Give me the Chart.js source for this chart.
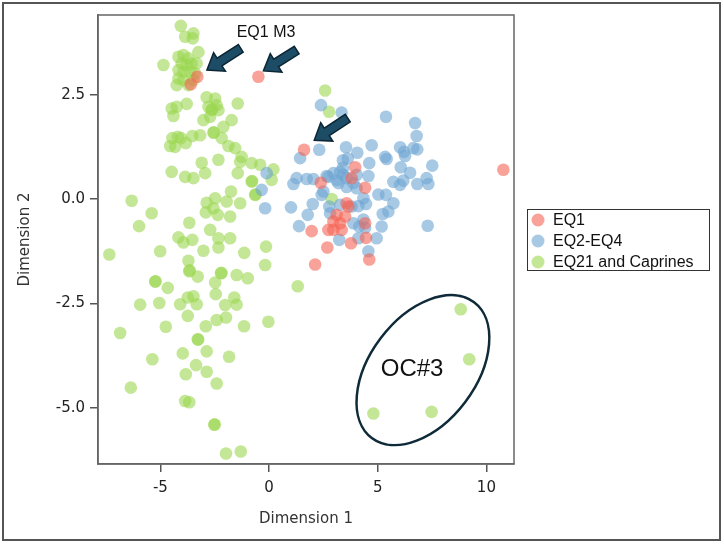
<!DOCTYPE html>
<html>
<head>
<meta charset="utf-8">
<script src="https://cdn.jsdelivr.net/npm/chart.js"></script>
<style>
  html, body { margin: 0; padding: 0; background: #fff; }
  #wrap { width: 724px; height: 544px; }
</style>
</head>
<body>
<div id="wrap"><canvas id="chart" width="724" height="544"></canvas></div>
<script>
const seriesNames = ["EQ1", "EQ2-EQ4", "EQ21 and Caprines"];
const xTicks = [-5, 0, 5, 10];
const yTicks = [-5, -2.5, 0, 2.5];

const eq1Points = [
  [-3.30, 2.93], [-0.49, 2.93], [-3.60, 2.75], [1.61, 1.18], [10.78, 0.70],
  [3.96, 0.76], [3.80, 0.50], [2.38, 0.39], [4.42, 0.27], [3.57, -0.10],
  [3.65, -0.18], [3.11, -0.38], [3.50, -0.42], [2.96, -0.54], [3.27, -0.58],
  [2.73, -0.74], [2.96, -0.74], [3.34, -0.74], [4.42, -0.58], [1.96, -0.77],
  [4.46, -0.93], [2.68, -1.16], [3.77, -1.06], [4.61, -1.45], [2.12, -1.57]
];

const eq2Points = [
  [2.39, 2.25], [3.34, 2.07], [5.38, 1.97], [6.72, 1.82], [6.79, 1.51],
  [2.31, 1.18], [3.54, 1.24], [4.06, 1.11], [4.72, 1.29], [1.43, 0.98],
  [3.40, 0.93], [3.62, 0.97], [5.34, 1.01], [5.41, 0.96], [6.03, 1.24],
  [6.21, 1.13], [6.26, 1.03], [6.64, 1.22], [6.82, 1.19], [7.51, 0.80],
  [4.61, 0.86], [6.06, 0.76], [6.49, 0.63], [4.57, 0.55], [2.96, 0.62],
  [3.27, 0.65], [3.42, 0.58], [2.73, 0.53], [3.11, 0.45], [3.57, 0.50],
  [4.03, 0.58], [1.27, 0.50], [1.12, 0.36], [1.73, 0.48], [2.04, 0.48],
  [2.65, 0.55], [5.72, 0.41], [6.03, 0.34], [6.18, 0.44], [6.82, 0.36],
  [7.25, 0.50], [7.33, 0.36], [2.50, 0.18], [2.42, 0.10], [3.19, 0.38],
  [3.57, 0.29], [4.03, 0.26], [5.03, 0.11], [5.38, 0.10], [5.72, -0.10],
  [1.01, -0.20], [2.01, -0.12], [1.78, -0.38], [3.27, -0.14], [3.80, -0.18],
  [4.11, -0.17], [4.46, -0.12], [4.34, 0.02], [2.77, -0.18], [2.81, -0.34],
  [5.23, -0.36], [5.49, -0.30], [1.38, -0.65], [3.88, -0.58], [4.15, -0.66],
  [4.34, -0.49], [4.42, -0.69], [5.18, -0.66], [7.30, -0.64], [3.23, -0.98],
  [4.11, -0.94], [4.95, -0.94], [4.57, -1.25], [-0.11, 0.62], [-0.34, 0.22],
  [-0.18, -0.22], [3.88, 0.38], [3.40, 0.75]
];

const eq21Points = [
  [-4.06, 4.15], [-3.86, 3.89], [-3.48, 3.97], [-3.51, 3.85], [-4.86, 3.21],
  [-3.25, 3.52], [-4.17, 3.41], [-3.94, 3.45], [-3.71, 3.37], [-4.02, 3.25],
  [-3.79, 3.21], [-3.56, 3.25], [-3.33, 3.25], [-4.17, 3.09], [-3.94, 3.05],
  [-3.63, 3.05], [-3.40, 3.01], [-4.17, 2.89], [-3.94, 2.85], [-4.25, 2.73],
  [-3.71, 2.73], [-3.48, 2.85],
  [-2.87, 2.44], [-2.48, 2.41], [-2.41, 2.25], [-2.79, 2.21], [-2.64, 2.13],
  [-2.62, 2.15], [-2.33, 2.13], [-3.02, 1.89], [-2.71, 1.97], [-1.44, 2.29],
  [-1.72, 1.89], [-4.48, 2.17], [-4.25, 2.21], [-4.40, 1.99], [-3.79, 2.28],
  [-4.45, 1.46], [-4.20, 1.49], [-4.05, 1.46], [-4.55, 1.27], [-4.32, 1.25],
  [-3.83, 1.34], [-3.53, 1.51], [-3.17, 1.53], [-2.56, 1.59], [-2.54, 1.60],
  [-2.10, 1.73], [-2.18, 1.46], [-1.87, 1.27], [-1.56, 1.22], [-1.26, 1.01],
  [-1.33, 0.89], [-0.80, 0.86], [-0.41, 0.82], [0.20, 0.71], [0.12, 0.46],
  [-0.80, 0.42], [-0.78, 0.43], [-2.33, 0.94], [-3.10, 0.87], [-2.94, 0.62],
  [-3.86, 0.53], [-3.48, 0.50], [-4.48, 0.65], [-1.44, 0.62], [-1.75, 0.18],
  [-6.32, -0.04], [-2.87, -0.09], [-2.48, 0.02], [-1.95, -0.06], [-1.33, -0.10],
  [-0.64, 0.10], [-0.62, 0.11],
  [-2.56, -0.22], [-2.91, -0.32], [-2.36, -0.38], [-1.79, -0.42], [-5.40, -0.34],
  [-5.98, -0.65], [-3.67, -0.57], [-2.71, -0.74], [-4.17, -0.92], [-3.94, -1.04],
  [-3.53, -0.98], [-2.33, -0.94], [-2.33, -1.16], [-1.79, -0.94], [-3.02, -1.24],
  [-5.01, -1.25], [-7.35, -1.33], [-1.14, -1.29], [-0.14, -1.14], [-0.18, -1.58],
  [-3.71, -1.48], [-3.67, -1.73], [-3.65, -1.71], [-3.28, -1.86], [-2.21, -1.78],
  [-2.19, -1.77], [-2.48, -2.00], [-1.49, -1.82], [-0.98, -1.90], [-5.24, -1.98],
  [-5.22, -1.97], [-4.66, -2.13], [1.32, -2.09], [-2.45, -2.28], [-5.93, -2.53],
  [-5.05, -2.49], [-4.09, -2.52], [-3.74, -2.36], [-3.48, -2.33], [-3.33, -2.52],
  [-3.74, -2.80], [-2.02, -2.54], [-1.60, -2.36], [-1.49, -2.53], [-2.91, -3.05],
  [-2.41, -2.90], [-1.98, -2.84], [-1.15, -3.05], [-0.03, -2.94], [-6.85, -3.21],
  [-4.75, -3.06], [-3.28, -3.36], [-3.26, -3.37], [-5.37, -3.84], [-3.97, -3.70],
  [-2.87, -3.65], [-1.84, -3.78], [-3.36, -3.98], [-3.83, -4.20], [-2.87, -4.14],
  [-2.41, -4.42], [-6.36, -4.52], [-3.86, -4.84], [-3.67, -4.87], [-2.52, -5.41],
  [-2.50, -5.40], [-1.98, -6.10], [-1.30, -6.05],
  [2.58, 2.60], [2.76, 2.09], [2.88, 0.00],
  [8.82, -2.64], [9.21, -3.84], [4.80, -5.14], [7.48, -5.10]
];

// annotation anchors in data units: [tailX, tailY, tipX, tipY]
const arrows = [
  [-1.30, 3.61, -2.86, 3.09],
  [1.27, 3.57, -0.26, 3.07],
  [3.62, 1.94, 2.08, 1.41]
];
const labelEQ1M3 = { text: "EQ1 M3", x: -0.14, y: 3.98 };
const labelOC3 = { text: "OC#3", x: 6.58, y: -4.08 };
const ellipseCenter = { x: 7.08, y: -4.10 };

const colors = ["rgba(245,100,85,0.6)", "rgba(110,165,210,0.6)", "rgba(155,215,80,0.6)"];

function toXY(list) {
  return list.map((p) => ({ x: p[0], y: p[1] }));
}

function drawArrow(ctx, x1, y1, x2, y2) {
  const ang = Math.atan2(y2 - y1, x2 - x1);
  const len = Math.hypot(x2 - x1, y2 - y1);
  const headLen = 15, headW = 11, shaftW = 4.5;
  ctx.save();
  ctx.translate(x1, y1);
  ctx.rotate(ang);
  ctx.beginPath();
  ctx.moveTo(0, -shaftW);
  ctx.lineTo(len - headLen, -shaftW);
  ctx.lineTo(len - headLen, -headW);
  ctx.lineTo(len, 0);
  ctx.lineTo(len - headLen, headW);
  ctx.lineTo(len - headLen, shaftW);
  ctx.lineTo(0, shaftW);
  ctx.closePath();
  ctx.fillStyle = "#1d4d66";
  ctx.fill();
  ctx.lineWidth = 1.5;
  ctx.strokeStyle = "#0c2634";
  ctx.stroke();
  ctx.restore();
}

const overlay = {
  id: "overlay",
  afterDraw(chart) {
    const ctx = chart.ctx;
    const a = chart.chartArea;
    const xs = chart.scales.x, ys = chart.scales.y;
    ctx.save();

    // plot frame
    ctx.strokeStyle = "#666";
    ctx.lineWidth = 1.5;
    ctx.strokeRect(a.left, a.top, a.right - a.left, a.bottom - a.top);

    // arrows
    arrows.forEach((r) => {
      drawArrow(ctx, xs.getPixelForValue(r[0]), ys.getPixelForValue(r[1]),
        xs.getPixelForValue(r[2]), ys.getPixelForValue(r[3]));
    });

    // text labels
    ctx.fillStyle = "#111";
    ctx.textAlign = "center";
    ctx.textBaseline = "middle";
    ctx.font = "16px 'Liberation Sans', Arial, sans-serif";
    ctx.fillText(labelEQ1M3.text, xs.getPixelForValue(labelEQ1M3.x), ys.getPixelForValue(labelEQ1M3.y));
    ctx.font = "24px 'Liberation Sans', Arial, sans-serif";
    ctx.fillText(labelOC3.text, xs.getPixelForValue(labelOC3.x), ys.getPixelForValue(labelOC3.y));

    // ellipse round OC#3
    ctx.beginPath();
    ctx.ellipse(xs.getPixelForValue(ellipseCenter.x), ys.getPixelForValue(ellipseCenter.y),
      85, 53, -53 * Math.PI / 180, 0, Math.PI * 2);
    ctx.strokeStyle = "#0f2a38";
    ctx.lineWidth = 2.5;
    ctx.stroke();

    // legend
    const lx = a.right + 13, ly = 209;
    ctx.strokeStyle = "#333";
    ctx.lineWidth = 1;
    ctx.strokeRect(lx + 0.5, ly + 0.5, 182, 61);
    ctx.font = "16px 'Liberation Sans', Arial, sans-serif";
    ctx.textAlign = "left";
    seriesNames.forEach((name, i) => {
      const cy = ly + 11 + i * 21;
      ctx.beginPath();
      ctx.arc(lx + 11, cy, 6.5, 0, Math.PI * 2);
      ctx.fillStyle = colors[i];
      ctx.fill();
      ctx.fillStyle = "#111";
      ctx.fillText(name, lx + 26, cy + 1);
    });

    // outer border
    ctx.strokeStyle = "#555";
    ctx.lineWidth = 2;
    ctx.strokeRect(3, 3, 717, 537);
    ctx.restore();
  }
};

const tickFont = { family: "'DejaVu Sans', Verdana, sans-serif", size: 15 };

new Chart(document.getElementById("chart"), {
  type: "scatter",
  data: {
    datasets: [
      { label: seriesNames[0], data: toXY(eq1Points), backgroundColor: colors[0] },
      { label: seriesNames[1], data: toXY(eq2Points), backgroundColor: colors[1] },
      { label: seriesNames[2], data: toXY(eq21Points), backgroundColor: colors[2] }
    ]
  },
  options: {
    responsive: false,
    animation: false,
    elements: { point: { radius: 6.3, borderWidth: 0, hoverRadius: 6.3 } },
    layout: { padding: { left: 0, top: 15, right: 210, bottom: 0 } },
    plugins: { legend: { display: false }, tooltip: { enabled: false } },
    scales: {
      x: {
        type: "linear",
        min: -7.87,
        max: 11.27,
        afterBuildTicks: (s) => { s.ticks = xTicks.map((v) => ({ value: v })); },
        afterFit: (s) => { s.height = 80; },
        grid: { drawOnChartArea: false, tickLength: 8, color: "#555", lineWidth: 1.5 },
        border: { color: "#666", width: 1.5 },
        ticks: { font: tickFont, color: "#222", padding: 7, maxRotation: 0 },
        title: { display: true, text: "Dimension 1", font: tickFont, color: "#333", padding: { top: 0, bottom: 16 } }
      },
      y: {
        type: "linear",
        min: -6.35,
        max: 4.41,
        afterBuildTicks: (s) => { s.ticks = yTicks.map((v) => ({ value: v })); },
        afterFit: (s) => { s.width = 98; },
        grid: { drawOnChartArea: false, tickLength: 8, color: "#555", lineWidth: 1.5 },
        border: { color: "#666", width: 1.5 },
        ticks: { font: tickFont, color: "#222", padding: 5, callback: (v) => Number(v).toFixed(1) },
        title: { display: true, text: "Dimension 2", font: tickFont, color: "#333", padding: { top: 16, bottom: 0 } }
      }
    }
  },
  plugins: [overlay]
});
</script>
</body>
</html>
